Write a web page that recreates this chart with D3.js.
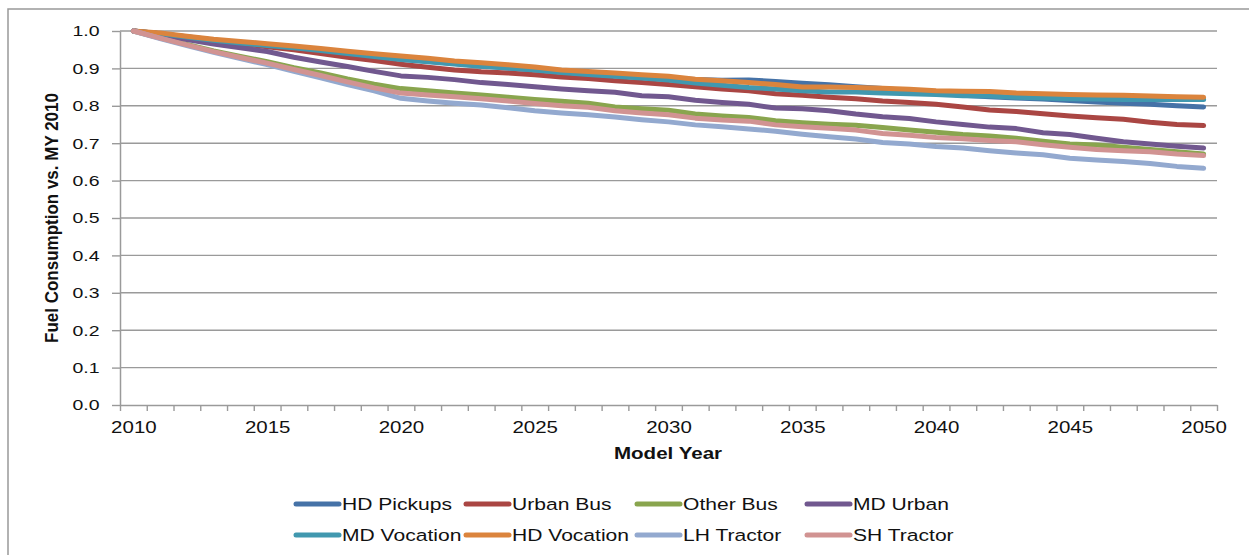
<!DOCTYPE html>
<html>
<head>
<meta charset="utf-8">
<script src="https://cdn.jsdelivr.net/npm/d3@7"></script>
<style>
  html, body { margin: 0; padding: 0; background: #fff; }
  svg { display: block; }
  text { font-family: "Liberation Sans", Arial, sans-serif; fill: #111; }
</style>
</head>
<body>
<svg id="chart" width="1249" height="555"></svg>
<script>
// ---------- DATA ----------
const years = d3.range(2010, 2051);
const xTickLabels = [2010, 2015, 2020, 2025, 2030, 2035, 2040, 2045, 2050];
const yTickLabels = [0, 0.1, 0.2, 0.3, 0.4, 0.5, 0.6, 0.7, 0.8, 0.9, 1.0];
const seriesNames = ["HD Pickups", "Urban Bus", "Other Bus", "MD Urban", "MD Vocation", "HD Vocation", "LH Tractor", "SH Tractor"];

const hdPickups = [1.0, 0.993, 0.985, 0.976, 0.968, 0.961, 0.955, 0.947, 0.940, 0.933, 0.925, 0.919, 0.913, 0.907, 0.901, 0.896, 0.890, 0.886, 0.881, 0.876, 0.874, 0.870, 0.868, 0.869, 0.865, 0.860, 0.856, 0.851, 0.846, 0.840, 0.834, 0.828, 0.824, 0.821, 0.818, 0.814, 0.810, 0.807, 0.804, 0.800, 0.797];
const urbanBus = [1.0, 0.993, 0.982, 0.974, 0.966, 0.958, 0.950, 0.940, 0.930, 0.921, 0.911, 0.903, 0.896, 0.891, 0.888, 0.883, 0.877, 0.873, 0.867, 0.862, 0.857, 0.851, 0.845, 0.840, 0.832, 0.828, 0.823, 0.819, 0.813, 0.809, 0.804, 0.797, 0.789, 0.785, 0.779, 0.773, 0.768, 0.764, 0.756, 0.750, 0.747];
const otherBus = [1.0, 0.982, 0.964, 0.947, 0.932, 0.918, 0.902, 0.888, 0.872, 0.858, 0.846, 0.840, 0.834, 0.829, 0.823, 0.817, 0.812, 0.807, 0.797, 0.792, 0.788, 0.778, 0.773, 0.769, 0.760, 0.755, 0.751, 0.748, 0.742, 0.735, 0.729, 0.723, 0.719, 0.713, 0.705, 0.698, 0.695, 0.689, 0.683, 0.677, 0.671];
const mdUrban = [1.0, 0.990, 0.977, 0.965, 0.955, 0.945, 0.930, 0.917, 0.905, 0.892, 0.880, 0.876, 0.870, 0.862, 0.857, 0.851, 0.845, 0.840, 0.836, 0.827, 0.824, 0.815, 0.809, 0.804, 0.794, 0.792, 0.787, 0.778, 0.771, 0.766, 0.757, 0.750, 0.743, 0.739, 0.728, 0.723, 0.713, 0.704, 0.698, 0.692, 0.687];
const mdVocation = [1.0, 0.993, 0.984, 0.975, 0.968, 0.961, 0.955, 0.948, 0.940, 0.932, 0.924, 0.918, 0.912, 0.906, 0.901, 0.896, 0.889, 0.884, 0.879, 0.874, 0.869, 0.861, 0.855, 0.849, 0.845, 0.840, 0.837, 0.837, 0.834, 0.832, 0.830, 0.827, 0.826, 0.823, 0.821, 0.819, 0.818, 0.817, 0.817, 0.817, 0.817];
const hdVocation = [1.0, 0.995, 0.986, 0.978, 0.972, 0.966, 0.960, 0.953, 0.946, 0.939, 0.933, 0.927, 0.920, 0.915, 0.910, 0.904, 0.896, 0.892, 0.888, 0.883, 0.879, 0.871, 0.867, 0.862, 0.857, 0.850, 0.850, 0.849, 0.847, 0.844, 0.840, 0.839, 0.838, 0.834, 0.832, 0.830, 0.829, 0.828, 0.826, 0.824, 0.823];
const lhTractor = [1.0, 0.980, 0.961, 0.943, 0.926, 0.910, 0.892, 0.875, 0.857, 0.840, 0.820, 0.813, 0.807, 0.802, 0.795, 0.787, 0.781, 0.776, 0.770, 0.763, 0.757, 0.749, 0.744, 0.738, 0.732, 0.724, 0.717, 0.711, 0.702, 0.698, 0.691, 0.687, 0.680, 0.674, 0.669, 0.660, 0.655, 0.651, 0.646, 0.638, 0.633];
const shTractor = [1.0, 0.981, 0.963, 0.945, 0.929, 0.914, 0.897, 0.881, 0.864, 0.848, 0.834, 0.829, 0.824, 0.819, 0.813, 0.806, 0.800, 0.796, 0.787, 0.781, 0.776, 0.767, 0.762, 0.759, 0.749, 0.744, 0.740, 0.735, 0.726, 0.721, 0.715, 0.712, 0.707, 0.704, 0.696, 0.689, 0.683, 0.680, 0.677, 0.671, 0.667];

const seriesValues = [hdPickups, urbanBus, otherBus, mdUrban, mdVocation, hdVocation, lhTractor, shTractor];
const seriesColors = ["#4572A7", "#AA4643", "#89A54E", "#71588F", "#4198AF", "#DB843D", "#93A9CF", "#D19392"];

// ---------- LAYOUT ----------
const svg = d3.select("#chart");
const plotLeft = 120, plotRight = 1217, plotTop = 31, plotBottom = 405;
const x = d3.scaleLinear().domain([2009.5, 2050.5]).range([plotLeft, plotRight]);
const y = d3.scaleLinear().domain([0, 1]).range([plotBottom, plotTop]);
const gridColor = "#9a9a9a";

// outer border
svg.append("rect").attr("x", 8).attr("y", 9).attr("width", 1300).attr("height", 600)
  .attr("fill", "none").attr("stroke", "#999").attr("stroke-width", 1.5);

// gridlines
svg.append("g").selectAll("line").data(yTickLabels.filter(d => d > 0)).join("line")
  .attr("x1", plotLeft).attr("x2", plotRight)
  .attr("y1", d => y(d)).attr("y2", d => y(d))
  .attr("stroke", gridColor).attr("stroke-width", 1.4);

// y axis
const yAxis = svg.append("g").attr("transform", `translate(${plotLeft},0)`)
  .call(d3.axisLeft(y).tickValues(yTickLabels).tickFormat(d3.format(".1f")).tickSize(8).tickSizeOuter(0));
yAxis.select(".domain").attr("stroke", gridColor).attr("stroke-width", 1.5);
yAxis.selectAll(".tick line").attr("stroke", gridColor).attr("stroke-width", 1.4);
yAxis.selectAll(".tick text")
  .attr("font-size", 15).attr("fill", "#111")
  .attr("x", -20.5 / 1.3).attr("transform", "scale(1.3,1)");

// x axis: tick marks at category boundaries
const xAxisMarks = svg.append("g").attr("transform", `translate(0,${plotBottom})`)
  .call(d3.axisBottom(x).tickValues(d3.range(2009.5, 2051, 1)).tickFormat("").tickSize(6).tickSizeOuter(0));
xAxisMarks.select(".domain").attr("stroke", gridColor).attr("stroke-width", 1.5);
xAxisMarks.selectAll(".tick line").attr("stroke", gridColor).attr("stroke-width", 1.4);

// x axis labels
const xAxisLabels = svg.append("g").attr("transform", `translate(0,${plotBottom})`)
  .call(d3.axisBottom(x).tickValues(xTickLabels).tickFormat(d3.format("d")).tickSize(0));
xAxisLabels.select(".domain").remove();
xAxisLabels.selectAll(".tick text")
  .attr("font-size", 16).attr("fill", "#111")
  .attr("y", 17).attr("transform", "scale(1.28,1)")
  .attr("dy", "0.71em");

// axis titles
svg.append("text")
  .attr("transform", "translate(668,459) scale(1.21,1)")
  .attr("text-anchor", "middle").attr("font-size", 17).attr("font-weight", "bold")
  .text("Model Year");
svg.append("text")
  .attr("transform", "translate(58,218) scale(1.07,1) rotate(-90)")
  .attr("text-anchor", "middle").attr("font-size", 17).attr("font-weight", "bold")
  .text("Fuel Consumption vs. MY 2010");

// lines
const line = d3.line().x((d, i) => x(years[i])).y(d => y(d));
svg.append("g").selectAll("path").data(seriesValues).join("path")
  .attr("d", d => line(d))
  .attr("fill", "none")
  .attr("stroke", (d, i) => seriesColors[i])
  .attr("stroke-width", 5)
  .attr("stroke-linecap", "round")
  .attr("stroke-linejoin", "round");

// legend
const legendCols = [294, 464, 635, 805];
const legendRows = [504, 535];
const legend = svg.append("g");
seriesNames.forEach((name, i) => {
  const cx = legendCols[i % 4], cy = legendRows[Math.floor(i / 4)];
  legend.append("line").attr("x1", cx + 2).attr("x2", cx + 45).attr("y1", cy).attr("y2", cy)
    .attr("stroke", seriesColors[i]).attr("stroke-width", 5).attr("stroke-linecap", "round");
  legend.append("text")
    .attr("transform", `translate(${cx + 48},${cy}) scale(1.24,1)`)
    .attr("dy", "0.36em").attr("font-size", 17)
    .text(name);
});
</script>
</body>
</html>
